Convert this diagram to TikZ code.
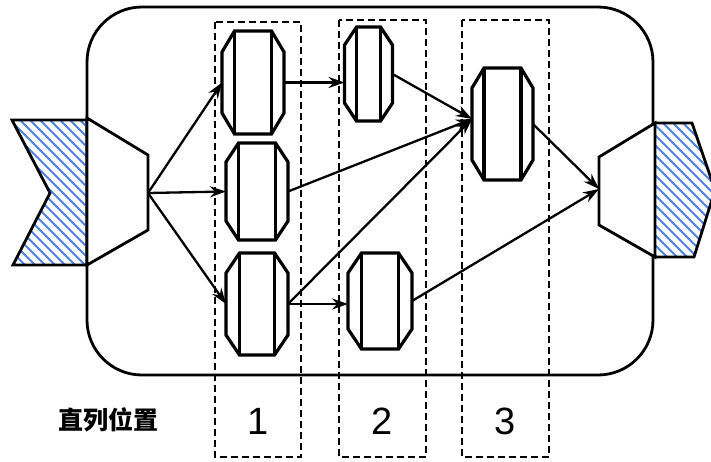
\documentclass[tikz,border=0pt]{standalone}
\usepackage{fontspec}
\setmainfont{Liberation Sans}
\newfontfamily\cjk{Noto Sans CJK SC}
\usetikzlibrary{arrows.meta,calc}
\definecolor{hatchblue}{RGB}{80,130,230}
\newcommand\drawbarrel[7]{%
  \node[barrelbox, minimum width={2*#4pt}, minimum height={2*#6pt}] (#1) at (#2,#3) {};
  \draw[nodeline] ({#2-#5},{#3-#6}) -- ({#2+#5},{#3-#6}) -- ({#2+#4},{#3-#6+#7}) -- ({#2+#4},{#3+#6-#7})
     -- ({#2+#5},{#3+#6}) -- ({#2-#5},{#3+#6}) -- ({#2-#4},{#3+#6-#7}) -- ({#2-#4},{#3-#6+#7}) -- cycle;
  \draw[nodeline] ({#2-#5},{#3-#6}) -- ({#2-#5},{#3+#6});
  \draw[nodeline] ({#2+#5},{#3-#6}) -- ({#2+#5},{#3+#6});
}
\begin{document}
\begin{tikzpicture}[x=1pt,y=-1pt,
  barrelbox/.style={draw=none, inner sep=0pt, outer sep=0pt, rectangle},
  nodeline/.style={line width=3.2pt, line join=miter, fill=white},
  outline/.style={line width=2.8pt, line join=miter},
  hatchline/.style={hatchblue, line width=1.8pt},
  colbox/.style={line width=1.5pt, dash pattern=on 7pt off 4pt},
  conn/.style={line width=2.3pt, -{Stealth[length=16pt,width=11pt]}},
  numlabel/.style={font=\fontsize{38}{38}\selectfont, inner sep=0pt},
  cjklabel/.style={font=\cjk\bfseries\fontsize{25}{25}\selectfont, inner sep=0pt}]
\useasboundingbox (0,0) rectangle (711,461);
\fill[white] (0,0) rectangle (711,461);

% dashed columns
\draw[colbox] (215,22) rectangle (301,457);
\draw[colbox] (339,20) rectangle (426,457);
\draw[colbox] (462,20) rectangle (549,457);

% main rounded box
\draw[outline, rounded corners=55pt] (87,7) rectangle (653,375);

% left hatched inlet
\begin{scope}
  \clip (12,120) -- (87,120) -- (87,265) -- (13,265) -- (50,193) -- cycle;
  \foreach \k in {-260,-250,...,100} \draw[hatchline] (\k,100) -- ++(200,200);
\end{scope}
\draw[outline] (12,120) -- (87,120) -- (87,265) -- (13,265) -- (50,193) -- cycle;
\draw[outline, fill=white] (87,118) -- (148,155) -- (148,230) -- (87,265) -- cycle;
\coordinate (in) at (148,193);

% right hatched outlet
\begin{scope}
  \clip (655,123) -- (692,123) -- (715,190) -- (694,257) -- (655,257) -- cycle;
  \foreach \k in {450,460,...,720} \draw[hatchline] (\k,100) -- ++(200,200);
\end{scope}
\draw[outline] (655,123) -- (692,123) -- (715,190) -- (694,257) -- (655,257);
\draw[outline, fill=white] (655,123) -- (599,157) -- (599,225) -- (655,257) -- cycle;
\coordinate (out) at (599,189);

% barrels
\drawbarrel{n1a}{253}{82.5}{31}{18.5}{51.5}{21}
\drawbarrel{n1b}{257}{191.5}{31}{18.5}{48.5}{19}
\drawbarrel{n1c}{257}{304}{31}{17.5}{51}{20}
\drawbarrel{n2a}{368.5}{74}{24}{12}{47}{18}
\drawbarrel{n2b}{380}{301}{32}{18.5}{48}{20}
\drawbarrel{n3}{502.5}{124}{30.5}{18.5}{56}{20}
\coordinate (n3in) at ($(n3.west)+(0,-5)$);

% connectors
\draw[conn] (in) -- (n1a.west);
\draw[conn] (in) -- (n1b.west);
\draw[conn] (in) -- (n1c.west);
\draw[conn] (n1a.east) -- (n1a.east -| n2a.west);
\draw[conn] (n2a.east) -- (n3in);
\draw[conn] (n1b.east) -- (n3in);
\draw[conn] (n1c.east) -- (n3in);
\draw[conn] (n1c.east) -- (n1c.east -| n2b.west);
\draw[conn] (n3.east) -- (out);
\draw[conn] (n2b.east) -- (out);

% labels
\node[cjklabel] (lab) at (108,420) {直列位置};
\node[numlabel] (c1) at (258,421) {1};
\node[numlabel] (c2) at (382,421) {2};
\node[numlabel] (c3) at (505,421) {3};
\end{tikzpicture}
\end{document}
